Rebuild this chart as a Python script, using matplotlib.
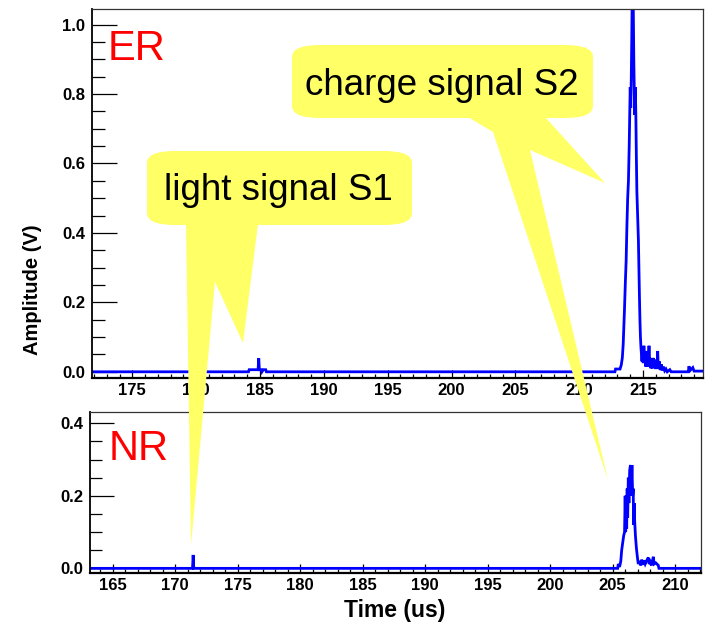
import matplotlib
matplotlib.use("Agg")
import matplotlib.pyplot as plt
from matplotlib.patches import FancyBboxPatch, Polygon
from matplotlib.ticker import MultipleLocator, FormatStrFormatter
from matplotlib.transforms import Affine2D

plt.rcParams['font.family'] = ['Liberation Sans', 'DejaVu Sans']

# ---------------- data ----------------
er_time = [171.84, 184.10, 184.15, 184.85, 184.90, 184.95, 185.10, 185.15, 185.25, 185.45, 185.50,
           212.80, 212.85, 213.20, 213.30, 213.38, 213.45, 213.50, 213.55, 213.62, 213.68, 213.74,
           213.80, 213.86, 213.92, 213.96, 214.00, 214.04, 214.08, 214.12, 214.16, 214.22, 214.28,
           214.32, 214.36, 214.40, 214.44, 214.48, 214.52, 214.58, 214.64, 214.68, 214.72, 214.76,
           214.80, 214.84, 214.88, 214.92, 214.97, 215.02, 215.07, 215.12, 215.17, 215.22, 215.27,
           215.32, 215.37, 215.42, 215.47, 215.52, 215.57, 215.62, 215.68, 215.74, 215.80, 215.86,
           215.92, 215.98, 216.05, 216.10, 216.15, 216.20, 216.28, 216.35, 216.42, 216.50, 216.60,
           216.70, 216.80, 216.90, 217.10, 217.20, 218.55, 218.60, 218.70, 218.90, 219.00, 219.70]
er_amp = [0.0, 0.0, 0.006, 0.006, 0.039, 0.006, 0.006, 0.0, 0.006, 0.006, 0.0,
          0.0, 0.008, 0.008, 0.02, 0.04, 0.08, 0.13, 0.18, 0.26, 0.32, 0.42,
          0.50, 0.55, 0.65, 0.74, 0.82, 0.76, 0.84, 0.96, 1.10, 1.12, 0.90,
          0.80, 0.74, 0.82, 0.74, 0.62, 0.52, 0.45, 0.38, 0.30, 0.22, 0.15,
          0.10, 0.07, 0.05, 0.03, 0.06, 0.025, 0.075, 0.03, 0.05, 0.015, 0.06,
          0.02, 0.045, 0.015, 0.075, 0.02, 0.04, 0.01, 0.035, 0.01, 0.04, 0.012,
          0.035, 0.008, 0.025, 0.01, 0.06, 0.008, 0.03, 0.005, 0.022, 0.004, 0.015,
          0.003, 0.008, 0.0, 0.006, 0.0, 0.0, 0.016, 0.004, 0.012, 0.002, 0.002]

nr_time = [163.20, 171.40, 171.45, 171.50, 205.40, 205.45, 205.55, 205.65, 205.72, 205.80, 205.88,
           205.95, 206.00, 206.04, 206.08, 206.12, 206.16, 206.20, 206.25, 206.30, 206.36, 206.42,
           206.48, 206.54, 206.60, 206.64, 206.68, 206.72, 206.76, 206.82, 206.90, 206.98, 207.05,
           207.15, 207.25, 207.32, 207.40, 207.50, 207.60, 207.70, 207.85, 207.92, 208.00, 208.10,
           208.25, 208.32, 208.45, 208.65, 208.70, 212.04]
nr_amp = [0.0, 0.0, 0.037, 0.0, 0.0, 0.012, 0.004, 0.02, 0.05, 0.07, 0.09,
          0.10, 0.20, 0.10, 0.20, 0.11, 0.22, 0.14, 0.25, 0.18, 0.27, 0.285,
          0.20, 0.285, 0.20, 0.22, 0.12, 0.18, 0.13, 0.09, 0.055, 0.03, 0.012,
          0.02, 0.008, 0.024, 0.01, 0.022, 0.012, 0.02, 0.03, 0.012, 0.018, 0.008,
          0.032, 0.012, 0.015, 0.008, 0.0, 0.0]

er_xticks = [175, 180, 185, 190, 195, 200, 205, 210, 215]
nr_xticks = [165, 170, 175, 180, 185, 190, 195, 200, 205, 210]
er_yticks = [0.0, 0.2, 0.4, 0.6, 0.8, 1.0]
nr_yticks = [0.0, 0.2, 0.4]

W, H = 706, 626
fig = plt.figure(figsize=(W / 100, H / 100), dpi=100)

def frac(x0, y0, x1, y1):
    return [x0 / W, 1 - y1 / H, (x1 - x0) / W, (y1 - y0) / H]

ax1 = fig.add_axes(frac(92, 9, 703, 377.7))
ax2 = fig.add_axes(frac(90, 411.7, 700.7, 572.7))

blue = '#0000ff'
ax1.plot(er_time, er_amp, color=blue, lw=2.0, solid_joinstyle='miter')
ax2.plot(nr_time, nr_amp, color=blue, lw=2.0, solid_joinstyle='miter')

ax1.set_xlim(171.84, 219.7)
ax1.set_ylim(-0.017, 1.045)
ax2.set_xlim(163.2, 212.04)
ax2.set_ylim(-0.012, 0.432)

def style(ax, xt, yt, ymaj, ymin, xmaj, xmin):
    ax.set_xticks(xt)
    ax.set_yticks(yt)
    ax.xaxis.set_minor_locator(MultipleLocator(1))
    ax.yaxis.set_minor_locator(MultipleLocator(0.05))
    ax.yaxis.set_major_formatter(FormatStrFormatter('%.1f'))
    ax.tick_params(which='both', direction='in', top=False, right=False, color='black', width=0.9)
    ax.tick_params(axis='y', which='major', length=ymaj, pad=5)
    ax.tick_params(axis='y', which='minor', length=ymin)
    ax.tick_params(axis='x', which='major', length=xmaj, pad=3.6)
    ax.tick_params(axis='x', which='minor', length=xmin)
    for lab in ax.get_xticklabels() + ax.get_yticklabels():
        lab.set_fontsize(12)
        lab.set_fontweight('bold')
    ax.spines['left'].set_linewidth(1.3)
    ax.spines['bottom'].set_linewidth(1.6)
    ax.spines['top'].set_linewidth(0.9)
    ax.spines['right'].set_linewidth(0.9)
    ax.spines['top'].set_color('#333333')
    ax.spines['right'].set_color('#333333')

style(ax1, er_xticks, er_yticks, 17.8, 9.4, 5.5, 3.1)
style(ax2, nr_xticks, nr_yticks, 17.3, 8.4, 6.5, 3.2)

# axis titles
fig.text(32 / W, 1 - 290 / H, 'Amplitude (V)', rotation=90, ha='center', va='center',
         fontsize=14.5, fontweight='bold')
fig.text(395 / W, 1 - 610 / H, 'Time (us)', ha='center', va='center',
         fontsize=16.5, fontweight='bold')

# panel labels
fig.text(108 / W, 1 - 60 / H, 'ER', color='#ff0000', fontsize=30, ha='left', va='baseline')
fig.text(109 / W, 1 - 460 / H, 'NR', color='#ff0000', fontsize=30, ha='left', va='baseline')

# speech bubbles (image-pixel coordinates, y downward)
pix = Affine2D().scale(1 / W, -1 / H).translate(0, 1) + fig.transFigure
yellow = '#ffff66'

def bubble(x0, y0, x1, y1, tail):
    box = FancyBboxPatch((x0, y0), x1 - x0, y1 - y0,
                         boxstyle='round,pad=0,rounding_size=28', mutation_aspect=12 / 28,
                         transform=pix, facecolor=yellow, edgecolor='none', zorder=5)
    fig.add_artist(box)
    poly = Polygon(tail, closed=True, transform=pix, facecolor=yellow, edgecolor='none', zorder=5)
    fig.add_artist(poly)

bubble(292, 45, 593, 118, [(468, 117), (493, 132), (608, 480), (530, 150), (605, 183), (545, 117)])
bubble(147, 151, 412, 225, [(186, 224), (191, 545), (215, 282), (243, 343), (258, 224)])

fig.text(442 / W, 1 - 95 / H, 'charge signal S2', fontsize=26.5, ha='center', va='baseline', zorder=6)
fig.text(278 / W, 1 - 200 / H, 'light signal S1', fontsize=26.5, ha='center', va='baseline', zorder=6)

fig.savefig('out.png', dpi=100, facecolor='white')
